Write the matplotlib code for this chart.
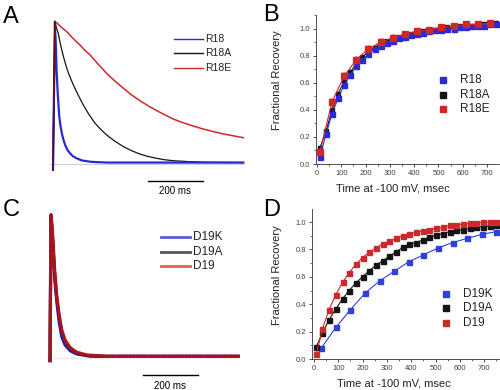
import matplotlib
matplotlib.use("Agg")
import matplotlib.pyplot as plt
from matplotlib.lines import Line2D
from matplotlib.ticker import MultipleLocator

plt.rcParams['font.family'] = ['Liberation Sans', 'DejaVu Sans']

W, H = 500, 390

# ---------------- Data ----------------
# Panel A: normalized current traces (time in ms from onset)
tA_R18 = [0, 7, 8, 10, 11.5, 13, 15, 17, 20, 23, 27, 32, 38, 44, 52, 62, 72, 86, 105, 135, 160,
          200, 300, 400, 500, 600, 692]
vA_R18 = [-0.04, 1.0, 0.93, 0.85, 0.76, 0.66, 0.58, 0.50, 0.41, 0.33, 0.27, 0.216, 0.17, 0.134,
          0.10, 0.075, 0.055, 0.04, 0.025, 0.016, 0.013, 0.01, 0.01, 0.01, 0.01, 0.01, 0.01]
tA_R18A = [0, 7, 12, 19, 25, 32, 40, 50, 60, 74, 90, 110, 130, 153, 175, 195, 225, 256, 285,
           316, 345, 377, 405, 437, 500, 559, 620, 692]
vA_R18A = [-0.04, 1.0, 0.96, 0.918, 0.86, 0.80, 0.74, 0.672, 0.62, 0.555, 0.49, 0.415, 0.35,
           0.286, 0.24, 0.204, 0.16, 0.122, 0.094, 0.07, 0.053, 0.04, 0.03, 0.023, 0.016, 0.012,
           0.011, 0.01]
tA_R18E = [0, 7, 15, 25, 37, 50, 62, 74, 86, 98, 115, 135, 160, 195, 225, 256, 285, 316, 345,
           377, 407, 437, 467, 498, 528, 559, 589, 619, 650, 692]
vA_R18E = [-0.04, 1.0, 0.99, 0.97, 0.95, 0.93, 0.905, 0.88, 0.858, 0.836, 0.80, 0.766, 0.71,
           0.637, 0.583, 0.532, 0.486, 0.445, 0.41, 0.375, 0.345, 0.316, 0.294, 0.274, 0.256,
           0.239, 0.225, 0.211, 0.20, 0.185]

# Panel C: normalized current traces
tC_D19K = [0, 3.6, 8.5, 12, 17, 24, 33, 42.5, 54.5, 73, 97, 145, 250, 400, 550, 684]
vC_D19K = [-0.02, 1.0, 0.86, 0.72, 0.55, 0.40, 0.25, 0.147, 0.089, 0.049, 0.026, 0.01, 0.01, 0.01, 0.01, 0.01]
tC_D19A = [0, 3.6, 8.5, 12, 17, 24, 33, 42.5, 54.5, 73, 97, 133, 206, 400, 550, 684]
vC_D19A = [-0.02, 1.0, 0.875, 0.755, 0.59, 0.425, 0.285, 0.18, 0.112, 0.062, 0.033, 0.016, 0.01, 0.01, 0.01, 0.01]
tC_D19 = [0, 3.6, 8.5, 12, 17, 24, 33, 42.5, 54.5, 73, 97, 133, 206, 400, 550, 684]
vC_D19 = [-0.02, 1.0, 0.883, 0.767, 0.603, 0.44, 0.30, 0.194, 0.124, 0.07, 0.038, 0.019, 0.01, 0.01, 0.01, 0.01]

# Panel B: fractional recovery
tB = [12, 37, 62, 87, 112, 137, 162, 187, 212, 237, 262, 287, 312, 337, 362,
      387, 412, 437, 462, 487, 512, 537, 562, 587, 612, 637, 662, 687, 712, 737]
yB_R18 = [0.05, 0.22, 0.37, 0.49, 0.58, 0.66, 0.72, 0.77, 0.81, 0.85, 0.87, 0.89, 0.91, 0.93, 0.94,
          0.95, 0.96, 0.97, 0.98, 0.99, 0.99, 1.00, 1.00, 1.01, 1.01, 1.02, 1.02, 1.02, 1.03, 1.03]
yB_R18A = [0.12, 0.24, 0.40, 0.52, 0.61, 0.68, 0.74, 0.79, 0.83, 0.86, 0.89, 0.91, 0.93, 0.94, 0.95,
           0.96, 0.97, 0.98, 0.99, 0.99, 1.00, 1.01, 1.01, 1.02, 1.02, 1.02, 1.03, 1.03, 1.03, 1.04]
tB_E = [12, 62, 112, 162, 212, 262, 312, 362, 412, 462, 512, 562, 612, 662, 712]
yB_R18E = [0.09, 0.46, 0.65, 0.77, 0.85, 0.90, 0.93, 0.96, 0.98, 0.99, 1.01, 1.02, 1.03, 1.03, 1.04]
eB_R18E = [0.02, 0.03, 0.03, 0.03, 0.03, 0.03, 0.03, 0.025, 0.02, 0.02, 0.02, 0.02, 0.02, 0.02, 0.02]

# Panel D: fractional recovery
tD_K = [30, 90, 150, 210, 270, 330, 390, 450, 510, 570, 630, 690, 750]
yD_D19K = [0.08, 0.23, 0.36, 0.48, 0.57, 0.64, 0.71, 0.76, 0.81, 0.85, 0.88, 0.91, 0.93]
tD = [10, 35, 62, 90, 118, 145, 172, 200, 228, 255, 282, 310, 338, 365,
      392, 420, 448, 475, 502, 530, 558, 585, 612, 640, 668, 695, 722, 750]
yD_D19A = [0.09, 0.19, 0.285, 0.365, 0.44, 0.50, 0.555, 0.60, 0.645, 0.685, 0.715, 0.75, 0.78, 0.815,
           0.84, 0.85, 0.87, 0.89, 0.905, 0.915, 0.93, 0.94, 0.945, 0.955, 0.96, 0.965, 0.97, 0.975]
yD_D19 = [0.04, 0.22, 0.36, 0.47, 0.56, 0.63, 0.69, 0.74, 0.78, 0.81, 0.84, 0.86, 0.88, 0.90,
          0.91, 0.925, 0.935, 0.945, 0.955, 0.96, 0.975, 0.98, 0.985, 0.99, 0.995, 1.0, 1.0, 1.0]

labelsA = ['R18', 'R18A', 'R18E']
labelsC = ['D19K', 'D19A', 'D19']

BLUE = '#2a2ad2'
BLACK = '#151515'
RED = '#cc2a2a'
DRED = '#a8141e'

fig = plt.figure(figsize=(W / 100, H / 100), dpi=100)

def fx(x):
    return x / W

def fy(y):
    return 1 - y / H

def add_ax(l, t, r, b):
    return fig.add_axes([fx(l), fy(b), (r - l) / W, (b - t) / H])

def leg_line(x0, x1, y, color, lw):
    fig.add_artist(Line2D([fx(x0), fx(x1)], [fy(y), fy(y)], color=color, lw=lw,
                          transform=fig.transFigure))

def leg_marker(x, y, color):
    fig.add_artist(Line2D([fx(x)], [fy(y)], marker='s', ms=4, color=color, lw=0,
                          transform=fig.transFigure))

# ---------------- Panel A ----------------
axA = add_ax(40, 10, 250, 200)
axA.set_xlim(-47.3, 716.3)
axA.set_ylim(-0.253, 1.082)
axA.axis('off')
axA.plot([-11, 691], [0, 0], color='#cfcfcf', lw=0.8)
axA.plot(tA_R18E, vA_R18E, color=RED, lw=1.1)
axA.plot(tA_R18A, vA_R18A, color=BLACK, lw=0.9)
axA.plot(tA_R18, vA_R18, color=BLUE, lw=1.6)
axA.plot([0, 7], [-0.04, 1.0], color='#5a1010', lw=1.2)
axA.plot([345.4, 545.4], [-0.119, -0.119], color='black', lw=1.0)
axA.text(445, -0.19, '200 ms', ha='center', va='center', fontsize=7)
for y, c, lab in zip([39, 53, 68], [BLUE, BLACK, RED], labelsA):
    leg_line(174, 203, y, c, 1.0)
    fig.text(fx(205), fy(y), lab, ha='left', va='center', fontsize=7.5, color='#222')

# ---------------- Panel C ----------------
axC = add_ax(40, 200, 250, 390)
axC.set_xlim(-36.4, 727)
axC.set_ylim(-0.226, 1.105)
axC.axis('off')
axC.plot([-11, 684], [0, 0], color='#cfcfcf', lw=0.8, ls=':')
axC.plot(tC_D19K, vC_D19K, color='#2020c8', lw=2.2)
axC.plot(tC_D19A, vC_D19A, color='#3a2030', lw=2.2)
axC.plot(tC_D19, vC_D19, color=DRED, lw=2.4)
axC.plot([0, 3.6], [-0.02, 1.0], color=DRED, lw=1.2)
axC.plot([338, 538], [-0.12, -0.12], color='black', lw=1.0)
axC.text(436, -0.198, '200 ms', ha='center', va='center', fontsize=7)
for y, c, lab in zip([237, 252, 266], ['#5a5ae0', '#555555', '#e06060'], labelsC):
    leg_line(161, 190, y, c, 2.0)
    fig.text(fx(193), fy(y), lab, ha='left', va='center', fontsize=8.5, color='#222')

# ---------------- recovery axes styling ----------------
def style_rec(ax):
    for s in ['top', 'right']:
        ax.spines[s].set_visible(False)
    for s in ['left', 'bottom']:
        ax.spines[s].set_linewidth(0.6)
        ax.spines[s].set_color('#333333')
    ax.set_yticks([0.0, 0.2, 0.4, 0.6, 0.8, 1.0])
    ax.set_yticklabels(['0.0', '0.2', '0.4', '0.6', '0.8', '1.0'])
    ax.set_xticks([0, 100, 200, 300, 400, 500, 600, 700])
    ax.xaxis.set_minor_locator(MultipleLocator(50))
    ax.yaxis.set_minor_locator(MultipleLocator(0.1))
    ax.tick_params(which='major', direction='out', length=2.5, width=0.6, labelsize=5.5,
                   pad=1.5, colors='#333333', labelcolor='#444444')
    ax.tick_params(which='minor', direction='out', length=1.5, width=0.5, colors='#333333')
    ax.set_xlabel('Time at -100 mV, msec', fontsize=8, color='#222')
    ax.set_ylabel('Fractional Recovery', fontsize=8, color='#222')

# ---------------- Panel B ----------------
axB = add_ax(316, 15, 499, 164)
axB.set_xlim(-4, 749)
axB.set_ylim(0, 1.1)
style_rec(axB)
axB.xaxis.set_label_coords(0.42, -0.13)
axB.yaxis.set_label_coords(-0.186, 0.56)
axB.errorbar(tB_E, yB_R18E, yerr=eB_R18E, fmt='none', ecolor='#f0a0a0', elinewidth=0.7,
             capsize=1.2, capthick=0.6, zorder=1)
axB.plot(tB, yB_R18, color=BLUE, lw=0.8, marker='s', ms=3.6, zorder=3)
axB.plot(tB, yB_R18A, color=BLACK, lw=0.8, marker='s', ms=3.4, zorder=2)
axB.plot(tB_E, yB_R18E, color=RED, lw=0.8, marker='s', ms=3.8, zorder=4)
for y, c, lab in zip([80, 95, 109], [BLUE, BLACK, RED], labelsA):
    leg_marker(443, y, c)
    fig.text(fx(460), fy(y), lab, ha='left', va='center', fontsize=8.5, color='#222')

# ---------------- Panel D ----------------
axD = add_ax(312, 209, 499, 359)
axD.set_xlim(-8, 761)
axD.set_ylim(0, 1.095)
style_rec(axD)
axD.xaxis.set_label_coords(0.436, -0.133)
axD.yaxis.set_label_coords(-0.16, 0.56)
axD.plot(tD_K, yD_D19K, color='#3040d8', lw=0.8, marker='s', ms=3.6, zorder=2)
axD.plot(tD, yD_D19A, color=BLACK, lw=0.8, marker='s', ms=3.6, zorder=3)
axD.plot(tD, yD_D19, color=RED, lw=0.8, marker='s', ms=3.6, zorder=4)
for y, c, lab in zip([294, 308, 323], ['#3040d8', BLACK, RED], labelsC):
    leg_marker(446, y, c)
    fig.text(fx(463), fy(y), lab, ha='left', va='center', fontsize=8.5, color='#222')

# ---------------- Panel letters ----------------
for lx, ly, L in [(3, 17, 'A'), (263, 15, 'B'), (3, 210, 'C'), (263, 210, 'D')]:
    fig.text(fx(lx), fy(ly), L, ha='left', va='center', fontsize=17, color='black')

fig.savefig('out.png', dpi=100)
